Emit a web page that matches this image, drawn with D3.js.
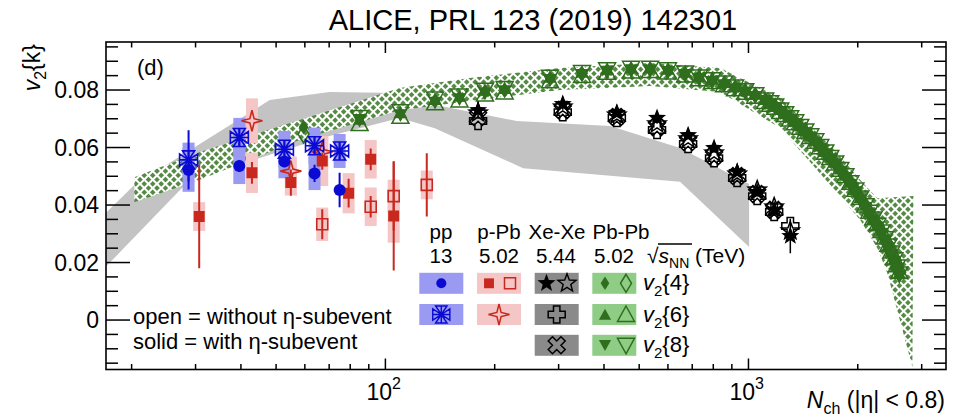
<!DOCTYPE html>
<html><head><meta charset="utf-8">
<script src="https://cdn.jsdelivr.net/npm/d3@7"></script>
<style>body{margin:0;background:#fff} svg{display:block} text{font-family:"Liberation Sans",Arial,Helvetica,sans-serif;fill:#000}</style>
</head><body><svg id="c" width="960" height="418"></svg>
<script>
// ---------------- DATA ----------------
// pp 13 TeV
const ppN = [28.7, 39.6, 52.7, 63.8, 74.8];
const ppV24 = [0.0522, 0.0536, 0.0551, 0.0510, 0.0452];
const ppV24Stat = [0.004, 0.002, 0.002, 0.003, 0.006];
const ppV24Sys = [0.0076, 0.0063, 0.0058, 0.0058, 0.0];
const ppV26 = [0.0557, 0.0635, 0.0594, 0.0606, 0.0588];
const ppV26Stat = [0.0103, 0.003, 0.003, 0.003, 0.003];
const ppV26Sys = [0.0060, 0.0068, 0.0064, 0.0063, 0.0059];
// p-Pb 5.02 TeV
const pPbN = [30.7, 42.9, 54.9, 67.0, 79.2, 91.1, 105.4];
const pPbV24 = [0.0360, 0.0512, 0.0478, 0.0553, 0.0441, 0.0559, 0.0362];
const pPbV24Stat = [0.018, 0.0038, 0.0046, 0.003, 0.005, 0.0038, 0.019];
const pPbV24Sys = [0.005, 0.007, 0.0045, 0.0087, 0.007, 0.0067, 0.0093];
const pPbOpenN = [67.0, 91.1, 105.4, 130.0];
const pPbV24o = [0.0333, 0.0394, 0.0431, 0.0470];
const pPbV24oStat = [0.0052, 0.0037, 0.012, 0.011];
const pPbV24oSys = [0.0058, 0.0067, 0.0057, 0.005];
const pPbStarN = [42.9, 54.9, 67.0];
const pPbV26 = [0.0693, 0.0518, 0.0585];
const pPbV26Sys = [0.0078, 0.005, 0.005];
// Xe-Xe 5.44 TeV
const xeN = [180, 308, 434, 560, 682, 804, 931, 1057, 1177, 1304];
const xeV24 = [0.0730, 0.0751, 0.0720, 0.0703, 0.0643, 0.0598, 0.0515, 0.0445, 0.0383, 0.0292];
const xeV24Stat = [0.003, 0.002, 0.001, 0.001, 0.001, 0.001, 0.001, 0.0015, 0.002, 0.006];
const xeV24o = [0.0720, 0.0741, 0.0713, 0.0682, 0.0630, 0.0581, 0.0508, 0.0452, 0.0393, 0.0310];
const xeV26 = [0.0692, 0.0723, 0.0703, 0.0661, 0.0612, 0.0563, 0.0494, 0.0431, 0.0376, 0.0327];
const xeN8 = [180, 308, 434, 560, 682, 804, 931, 1057, 1177];
const xeV28 = [0.0706, 0.0730, 0.0706, 0.0671, 0.0619, 0.0570, 0.0501, 0.0438, 0.0383];
// Pb-Pb 5.02 TeV
const pbDiaN = [59.5];
const pbV24 = [0.0671];
const pbV24o = [0.0647];
const pbN = [84.9, 110, 137, 160, 188, 213, 284, 348, 408, 475, 536, 600, 669, 731, 794, 857, 919, 980, 1044, 1112, 1185, 1262, 1345, 1434, 1528, 1628, 1734, 1849, 1970, 2098, 2208, 2323, 2428, 2522, 2603];
const pbV26 = [0.0696, 0.0719, 0.0765, 0.0776, 0.0797, 0.0803, 0.0842, 0.0859, 0.0870, 0.0875, 0.0875, 0.0870, 0.0859, 0.0845, 0.0835, 0.0824, 0.0810, 0.0797, 0.0783, 0.0765, 0.0744, 0.0717, 0.0689, 0.0657, 0.0623, 0.0584, 0.0546, 0.0501, 0.0452, 0.0397, 0.0351, 0.0306, 0.0257, 0.0209, 0.0160];
const pbV28 = [0.0700, 0.0716, 0.0760, 0.0772, 0.0793, 0.0800, 0.0839, 0.0856, 0.0867, 0.0872, 0.0872, 0.0867, 0.0856, 0.0842, 0.0832, 0.0821, 0.0807, 0.0794, 0.0780, 0.0762, 0.0741, 0.0714, 0.0686, 0.0654, 0.0620, 0.0581, 0.0543, 0.0498, 0.0449, 0.0394, 0.0348, 0.0303, 0.0254, 0.0206, 0.0157];
const pbV26o = [0.0680, 0.0705, 0.0752, 0.0762, 0.0783, 0.0790, 0.0829, 0.0847, 0.0858, 0.0863, 0.0864, 0.0859, 0.0849, 0.0836, 0.0826, 0.0815, 0.0801, 0.0789, 0.0775, 0.0757, 0.0737, 0.0711, 0.0683, 0.0652, 0.0618, 0.0580, 0.0543, 0.0499, 0.0451, 0.0397, 0.0352, 0.0308, 0.0260, 0.0213, 0.0165];
const pbV28o = [0.0708, 0.0728, 0.0772, 0.0783, 0.0803, 0.0809, 0.0848, 0.0864, 0.0874, 0.0879, 0.0879, 0.0874, 0.0863, 0.0849, 0.0839, 0.0828, 0.0814, 0.0801, 0.0787, 0.0769, 0.0748, 0.0721, 0.0693, 0.0661, 0.0627, 0.0588, 0.0550, 0.0505, 0.0456, 0.0401, 0.0355, 0.0310, 0.0261, 0.0213, 0.0164];
// Pb-Pb: extra narrow centrality bins in the central tail
const pbTailN = [1148, 1223, 1303, 1389, 1480, 1577, 1680, 1790, 1908, 2032, 2152, 2265, 2375, 2475, 2563];
const pbTailV26 = [0.0755, 0.0730, 0.0703, 0.0673, 0.0640, 0.0603, 0.0565, 0.0523, 0.0477, 0.0424, 0.0374, 0.0329, 0.0282, 0.0233, 0.0184];
const pbTailV28 = [0.0752, 0.0727, 0.0700, 0.0670, 0.0637, 0.0600, 0.0562, 0.0520, 0.0474, 0.0421, 0.0371, 0.0326, 0.0279, 0.0230, 0.0181];
const pbTailV26o = [0.0747, 0.0722, 0.0696, 0.0667, 0.0635, 0.0599, 0.0562, 0.0521, 0.0476, 0.0424, 0.0375, 0.0331, 0.0285, 0.0237, 0.0189];
const pbTailV28o = [0.0759, 0.0734, 0.0707, 0.0677, 0.0644, 0.0607, 0.0569, 0.0527, 0.0481, 0.0428, 0.0378, 0.0333, 0.0286, 0.0237, 0.0188];
// model bands
const grayUpN = [17, 20.35, 48, 70.2, 109.5, 124, 230, 416, 648, 1004];
const grayUpV = [0.0373, 0.0470, 0.0765, 0.0793, 0.0790, 0.0759, 0.0692, 0.0675, 0.0598, 0.0473];
const grayLoN = [17, 28.9, 70.2, 109.5, 136.8, 239.6, 648, 1004];
const grayLoV = [0.0186, 0.0487, 0.0640, 0.0703, 0.0667, 0.0528, 0.0481, 0.0254];
const hatchUpN = [20.35, 30.7, 58.0, 109.5, 170.8, 302.5, 535.7, 835.6, 1223, 1680, 2032, 2265, 2847];
const hatchUpV = [0.0497, 0.0584, 0.0696, 0.0807, 0.0842, 0.0877, 0.0894, 0.0877, 0.0772, 0.0609, 0.0487, 0.0424, 0.0431];
const hatchLoN = [20.35, 30.7, 58.0, 109.5, 170.8, 302.5, 535.7, 835.6, 1223, 1680, 2032, 2265, 2413, 2828];
const hatchLoV = [0.0410, 0.0487, 0.0626, 0.0730, 0.0762, 0.0800, 0.0814, 0.0793, 0.0668, 0.0470, 0.0348, 0.0250, 0.0163, -0.0163];
// ticks
const yTicks = [0, 0.02, 0.04, 0.06, 0.08];
const yTickLabels = ["0", "0.02", "0.04", "0.06", "0.08"];
const xMajor = [100, 1000];
const xTickBase = ["10", "10"];
const xTickExp = ["2", "3"];
const xMinor = [20,30,40,50,60,70,80,90,200,300,400,500,600,700,800,900,2000,3000];

// ---------------- CHART ----------------
const L = 106, R = 946, T = 42, B = 369.5;
const x = d3.scaleLog().domain([17, 3500]).range([L, R]);
const y = d3.scaleLinear().domain([-0.0172, 0.0967]).range([B, T]);
const svg = d3.select("#c");
const defs = svg.append("defs");
defs.append("clipPath").attr("id", "clip").append("rect")
  .attr("x", L).attr("y", T).attr("width", R - L).attr("height", B - T);
const pat = defs.append("pattern").attr("id", "hatch").attr("patternUnits", "userSpaceOnUse")
  .attr("width", 6).attr("height", 6).attr("patternTransform", "rotate(45)");
pat.append("rect").attr("width", 6).attr("height", 6).attr("fill", "#558a45");
pat.append("rect").attr("width", 6).attr("height", 2).attr("fill", "#fff");
pat.append("rect").attr("width", 2).attr("height", 6).attr("fill", "#fff");

const plot = svg.append("g").attr("clip-path", "url(#clip)");

function bandPath(upN, upV, loN, loV) {
  const pts = upN.map((n, i) => [x(n), y(upV[i])])
    .concat(loN.map((n, i) => [x(n), y(loV[i])]).reverse());
  return d3.line()(pts) + "Z";
}
plot.append("path").attr("d", bandPath(grayUpN, grayUpV, grayLoN, grayLoV)).attr("fill", "#c3c3c3");
plot.append("path").attr("d", bandPath(hatchUpN, hatchUpV, hatchLoN, hatchLoV)).attr("fill", "url(#hatch)");

// shapes
function poly(pts) { return "M" + pts.map(p => p[0].toFixed(2) + "," + p[1].toFixed(2)).join("L") + "Z"; }
function starPts(n, Ro, Ri) {
  const pts = [];
  for (let i = 0; i < 2 * n; i++) {
    const a = -Math.PI / 2 + i * Math.PI / n, r = i % 2 ? Ri : Ro;
    pts.push([r * Math.cos(a), r * Math.sin(a)]);
  }
  return pts;
}
function crossPts(a, b) {
  return [[-a,-b],[a,-b],[a,-a],[b,-a],[b,a],[a,a],[a,b],[-a,b],[-a,a],[-b,a],[-b,-a],[-a,-a]];
}
function rot(pts, deg) {
  const c = Math.cos(deg * Math.PI / 180), s = Math.sin(deg * Math.PI / 180);
  return pts.map(p => [p[0] * c - p[1] * s, p[0] * s + p[1] * c]);
}
const SH = {
  square: poly([[-5.5,-5.5],[5.5,-5.5],[5.5,5.5],[-5.5,5.5]]),
  diamond: poly([[0,-9],[5.5,0],[0,9],[-5.5,0]]),
  diamondF: poly([[0,-7.5],[4.8,0],[0,7.5],[-4.8,0]]),
  triUp: poly([[0,-9.5],[8.5,6],[-8.5,6]]),
  triUpF: poly([[0,-7.5],[6.8,4.8],[-6.8,4.8]]),
  triDn: poly([[0,9.5],[8.5,-6],[-8.5,-6]]),
  triDnF: poly([[0,7.5],[6.8,-4.8],[-6.8,-4.8]]),
  star5: poly(starPts(5, 9.5, 4)),
  star4: poly(starPts(4, 10.5, 3)),
  cross: poly(crossPts(3.2, 8.5)),
  xcross: poly(rot(crossPts(3.0, 9.0), 45)),
  ppStar: "M0,0L-6,-9L6,-9ZM0,0L-6,9L6,9ZM0,0L-9,-6L-9,6ZM0,0L9,-6L9,6ZM0,-9L0,9M-9,0L9,0"
};

function sysBoxes(Ns, Vs, Es, color, w) {
  plot.append("g").selectAll("rect").data(Ns.map((n, i) => [n, Vs[i], Es[i]]).filter(d => d[2] > 0)).join("rect")
    .attr("x", d => x(d[0]) - w / 2).attr("width", w)
    .attr("y", d => y(d[1] + d[2])).attr("height", d => y(d[1] - d[2]) - y(d[1] + d[2]))
    .attr("fill", color);
}
function statBars(Ns, Vs, Es, color, sw) {
  plot.append("g").selectAll("line").data(Ns.map((n, i) => [n, Vs[i], Es[i]])).join("line")
    .attr("x1", d => x(d[0])).attr("x2", d => x(d[0]))
    .attr("y1", d => y(d[1] + d[2])).attr("y2", d => y(d[1] - d[2]))
    .attr("stroke", color).attr("stroke-width", sw);
}
function marks(Ns, Vs, d, fill, stroke, sw) {
  plot.append("g").selectAll("path").data(Ns.map((n, i) => [n, Vs[i]])).join("path")
    .attr("transform", p => `translate(${x(p[0])},${y(p[1])})`)
    .attr("d", d).attr("fill", fill).attr("stroke", stroke).attr("stroke-width", sw);
}
function circles(Ns, Vs, r, fill) {
  plot.append("g").selectAll("circle").data(Ns.map((n, i) => [n, Vs[i]])).join("circle")
    .attr("cx", p => x(p[0])).attr("cy", p => y(p[1])).attr("r", r).attr("fill", fill);
}

const BLUE = "#0a0ad2", BLUEBOX = "#9a9af2", RED = "#c8281e", REDBOX = "#f5c6c6", GREEN = "#2e6e1c";

// systematic boxes
sysBoxes(pPbN, pPbV24, pPbV24Sys, REDBOX, 12);
sysBoxes(pPbOpenN, pPbV24o, pPbV24oSys, REDBOX, 12);
sysBoxes(pPbStarN, pPbV26, pPbV26Sys, REDBOX, 12);
sysBoxes(ppN, ppV24, ppV24Sys, BLUEBOX, 12);
sysBoxes(ppN, ppV26, ppV26Sys, BLUEBOX, 12);

// Pb-Pb
marks(pbDiaN, pbV24o, SH.diamond, "none", GREEN, 1.5);
marks(pbDiaN, pbV24, SH.diamondF, GREEN, "none", 0);
marks(pbN, pbV26o, SH.triUp, "none", GREEN, 1.5);
marks(pbN, pbV28o, SH.triDn, "none", GREEN, 1.5);
marks(pbTailN, pbTailV26o, SH.triUp, "none", GREEN, 1.5);
marks(pbTailN, pbTailV28o, SH.triDn, "none", GREEN, 1.5);
marks(pbN, pbV26, SH.triUpF, GREEN, "none", 0);
marks(pbN, pbV28, SH.triDnF, GREEN, "none", 0);
marks(pbTailN, pbTailV26, SH.triUpF, GREEN, "none", 0);
marks(pbTailN, pbTailV28, SH.triDnF, GREEN, "none", 0);

// Xe-Xe
statBars(xeN, xeV24, xeV24Stat, "#000", 1.5);
marks(xeN8, xeV28, SH.xcross, "none", "#000", 1.5);
marks(xeN, xeV26, SH.cross, "none", "#000", 1.5);
marks(xeN, xeV24o, SH.star5, "none", "#000", 1.5);
marks(xeN, xeV24, SH.star5, "#000", "none", 0);

// p-Pb
statBars(pPbN, pPbV24, pPbV24Stat, RED, 2);
statBars(pPbOpenN, pPbV24o, pPbV24oStat, RED, 2);
marks(pPbOpenN, pPbV24o, SH.square, "none", RED, 1.6);
marks(pPbN, pPbV24, SH.square, RED, "none", 0);
marks(pPbStarN, pPbV26, SH.star4, "none", RED, 1.6);

// pp
statBars(ppN, ppV24, ppV24Stat, BLUE, 2);
statBars(ppN, ppV26, ppV26Stat, BLUE, 2);
circles(ppN, ppV24, 6, BLUE);
marks(ppN, ppV26, SH.ppStar, "none", BLUE, 1.6);

// ---------------- AXES ----------------
const ax = svg.append("g").attr("stroke", "#000").attr("stroke-width", 1.5);
const yMinor = d3.range(-15, 96, 5).map(v => v / 1000);
yMinor.forEach(v => {
  const major = Math.abs(v / 0.02 - Math.round(v / 0.02)) < 1e-6;
  const len = major ? 24 : 12;
  ax.append("line").attr("x1", L).attr("x2", L + len).attr("y1", y(v)).attr("y2", y(v));
  ax.append("line").attr("x1", R).attr("x2", R - len).attr("y1", y(v)).attr("y2", y(v));
});
xMinor.concat(xMajor).forEach(n => {
  const len = xMajor.includes(n) ? 11 : 5.5;
  ax.append("line").attr("x1", x(n)).attr("x2", x(n)).attr("y1", B).attr("y2", B - len);
  ax.append("line").attr("x1", x(n)).attr("x2", x(n)).attr("y1", T).attr("y2", T + len);
});
svg.append("rect").attr("x", L).attr("y", T).attr("width", R - L).attr("height", B - T)
  .attr("fill", "none").attr("stroke", "#000").attr("stroke-width", 1.6);

yTicks.forEach((v, i) => {
  svg.append("text").attr("x", 99).attr("y", y(v) + 8).attr("text-anchor", "end")
    .attr("font-size", 23).text(yTickLabels[i]);
});
xMajor.forEach((n, i) => {
  const t = svg.append("text").attr("x", x(n) - 19).attr("y", 400).attr("font-size", 23);
  t.append("tspan").text(xTickBase[i]);
  t.append("tspan").attr("font-size", 16).attr("dy", -11).text(xTickExp[i]);
});

// title
svg.append("text").attr("x", 533).attr("y", 30).attr("text-anchor", "middle").attr("font-size", 29)
  .text("ALICE, PRL 123 (2019) 142301");
// y label
const yl = svg.append("text").attr("transform", "translate(40,44) rotate(-90)").attr("text-anchor", "end").attr("font-size", 23);
yl.append("tspan").attr("font-style", "italic").text("v");
yl.append("tspan").attr("font-size", 16).attr("dy", 6).text("2");
yl.append("tspan").attr("dy", -6).text("{k}");
// x label
const xl = svg.append("text").attr("x", 945).attr("y", 408).attr("text-anchor", "end").attr("font-size", 23);
xl.append("tspan").attr("font-style", "italic").text("N");
xl.append("tspan").attr("font-size", 16).attr("dy", 6).text("ch");
xl.append("tspan").attr("dy", -6).text(" (|η| < 0.8)");
// (d)
svg.append("text").attr("x", 137).attr("y", 75).attr("font-size", 22).text("(d)");

// open/solid note
svg.append("text").attr("x", 133).attr("y", 324).attr("font-size", 22).text("open = without η-subevent");
svg.append("text").attr("x", 133).attr("y", 349).attr("font-size", 22).text("solid = with η-subevent");

// ---------------- LEGEND ----------------
const lg = svg.append("g");
const heads = [["pp", "13", 441, 441], ["p-Pb", "5.02", 499, 499], ["Xe-Xe", "5.44", 557, 556], ["Pb-Pb", "5.02", 621, 614]];
heads.forEach(h => {
  lg.append("text").attr("x", h[2]).attr("y", 239).attr("text-anchor", "middle").attr("font-size", 20.5).text(h[0]);
  lg.append("text").attr("x", h[3]).attr("y", 263).attr("text-anchor", "middle").attr("font-size", 20.5).text(h[1]);
});
const sq = lg.append("text").attr("x", 647).attr("y", 263).attr("font-size", 21);
sq.append("tspan").text("√");
sq.append("tspan").attr("font-style", "italic").text("s");
sq.append("tspan").attr("font-size", 14).attr("dy", 5).text("NN");
sq.append("tspan").attr("dy", -5).text(" (TeV)");
lg.append("line").attr("x1", 658).attr("x2", 692).attr("y1", 244).attr("y2", 244).attr("stroke", "#000").attr("stroke-width", 1.3);

const cols = [441.3, 499, 556.7, 614.3];
const colColor = ["#9a9af2", "#f5c6c6", "#8a8a8a", "#8fcc86"];
const rows = [283.3, 314.5, 345.3];
const boxes = [[0,0],[1,0],[2,0],[3,0],[0,1],[1,1],[2,1],[3,1],[2,2],[3,2]];
boxes.forEach(b => {
  lg.append("rect").attr("x", cols[b[0]] - 22).attr("y", rows[b[1]] - 10.5).attr("width", 44).attr("height", 21).attr("fill", colColor[b[0]]);
});
function lm(cx, cy, d, fill, stroke, sw, sc) {
  lg.append("path").attr("transform", `translate(${cx},${cy}) scale(${sc || 1})`).attr("d", d)
    .attr("fill", fill).attr("stroke", stroke).attr("stroke-width", sw);
}
lg.append("circle").attr("cx", cols[0]).attr("cy", rows[0]).attr("r", 5).attr("fill", BLUE);
lm(489, rows[0], SH.square, RED, "none", 0, 0.9);
lm(510, rows[0], SH.square, "none", RED, 1.5, 1.0);
lm(546.5, rows[0], SH.star5, "#000", "none", 0, 1.0);
lm(567, rows[0], SH.star5, "none", "#000", 1.4, 1.0);
lm(605, rows[0], SH.diamondF, GREEN, "none", 0, 0.9);
lm(626, rows[0], SH.diamond, "none", GREEN, 1.5, 1.0);
lm(cols[0], rows[1], SH.ppStar, "none", BLUE, 1.5, 0.95);
lm(cols[1], rows[1], SH.star4, "none", RED, 1.5, 1.0);
lm(cols[2], rows[1], SH.cross, "none", "#000", 1.5, 1.0);
lm(605, rows[1] + 1, SH.triUpF, GREEN, "none", 0, 0.9);
lm(626, rows[1] + 1, SH.triUp, "none", GREEN, 1.5, 1.0);
lm(cols[2], rows[2], SH.xcross, "none", "#000", 1.5, 1.0);
lm(605, rows[2] - 1, SH.triDnF, GREEN, "none", 0, 0.9);
lm(626, rows[2] - 1, SH.triDn, "none", GREEN, 1.5, 1.0);

["4", "6", "8"].forEach((k, i) => {
  const t = lg.append("text").attr("x", 643).attr("y", rows[i] + 7).attr("font-size", 22);
  t.append("tspan").attr("font-style", "italic").text("v");
  t.append("tspan").attr("font-size", 15).attr("dy", 6).text("2");
  t.append("tspan").attr("dy", -6).text("{" + k + "}");
});
</script></body></html>
